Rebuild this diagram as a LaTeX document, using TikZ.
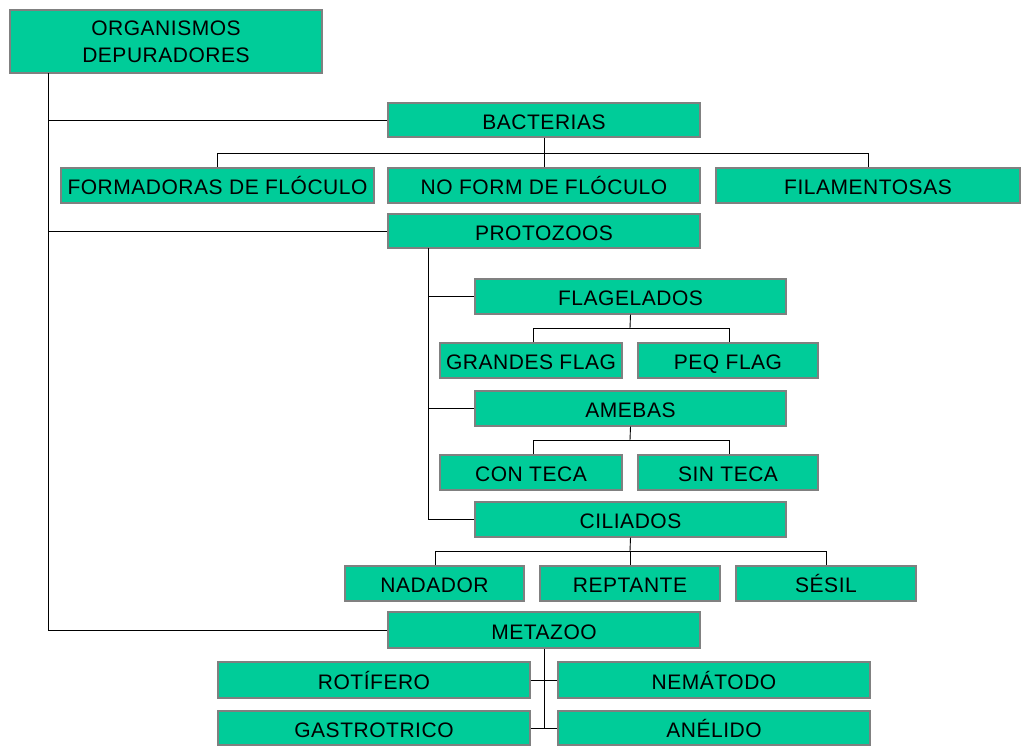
\documentclass[tikz,border=0pt]{standalone}
\usepackage{fontspec}
\setmainfont[LetterSpace=2.5]{Liberation Sans}
\definecolor{boxgreen}{HTML}{00CC99}
\definecolor{boxedge}{HTML}{808080}
\begin{document}
\begin{tikzpicture}[x=1pt,y=-1pt,
  orgbox/.style={draw=boxedge,line width=1.4pt,fill=boxgreen,inner sep=0pt,
    font=\fontsize{21}{27}\selectfont,align=center},
  onebox/.style={orgbox,text height=18pt,text depth=0pt},
  link/.style={draw=black,line width=0.9pt}]
\useasboundingbox (0,0) rectangle (1021,745);
\newcommand{\orgnode}[6]{%
  \node[onebox,minimum width={#4-#2},minimum height={#5-#3}] (#1) at ({(#2+#4)/2},{(#3+#5)/2}) {#6};}
\node[orgbox,minimum width=312,minimum height=63] (root) at (166,41.5) {ORGANISMOS\\DEPURADORES};
\orgnode{bact}{388}{103}{700}{137}{BACTERIAS}
\orgnode{form}{61}{168}{374}{203}{FORMADORAS DE FLÓCULO}
\orgnode{noform}{388}{168}{700}{203}{NO FORM DE FLÓCULO}
\orgnode{fila}{716}{168}{1020}{203}{FILAMENTOSAS}
\orgnode{proto}{388}{214}{700}{248}{PROTOZOOS}
\orgnode{flag}{475}{279}{786}{314}{FLAGELADOS}
\orgnode{gflag}{440}{343}{622}{378}{GRANDES FLAG}
\orgnode{pflag}{638}{343}{818}{378}{PEQ FLAG}
\orgnode{ameb}{475}{391}{786}{426}{AMEBAS}
\orgnode{cteca}{440}{455}{622}{490}{CON TECA}
\orgnode{steca}{638}{455}{818}{490}{SIN TECA}
\orgnode{cili}{475}{502}{786}{537}{CILIADOS}
\orgnode{nada}{345}{566}{524}{601}{NADADOR}
\orgnode{rept}{540}{566}{720}{601}{REPTANTE}
\orgnode{sesil}{736}{566}{916}{601}{SÉSIL}
\orgnode{meta}{388}{612}{700}{648}{METAZOO}
\orgnode{roti}{218}{662}{530}{698}{ROTÍFERO}
\orgnode{nema}{558}{662}{870}{698}{NEMÁTODO}
\orgnode{gast}{218}{711}{530}{745}{GASTROTRICO}
\orgnode{aneli}{558}{711}{870}{745}{ANÉLIDO}
% main trunk
\coordinate (trunk) at (48,73);
\draw[link] (trunk) -- (meta.west -| trunk) -- (meta.west);
\draw[link] (bact.west -| trunk) -- (bact.west);
\draw[link] (proto.west -| trunk) -- (proto.west);
% bacterias
\coordinate (bbus) at (544,153);
\draw[link] (bact.south) -- (bbus);
\draw[link] (form.north |- bbus) -- (fila.north |- bbus);
\draw[link] (form.north |- bbus) -- (form.north);
\draw[link] (bbus) -- (noform.north);
\draw[link] (fila.north |- bbus) -- (fila.north);
% protozoos
\coordinate (ptrunk) at (428,248);
\draw[link] (ptrunk) -- (cili.west -| ptrunk) -- (cili.west);
\draw[link] (flag.west -| ptrunk) -- (flag.west);
\draw[link] (ameb.west -| ptrunk) -- (ameb.west);
% flagelados
\coordinate (fbus) at (630,328);
\draw[link] (flag.south) -- (fbus);
\draw[link] (gflag.north -| 533,0) -- (533,328) -- (729,328) -- (pflag.north -| 729,0);
% amebas
\coordinate (abus) at (630,440);
\draw[link] (ameb.south) -- (abus);
\draw[link] (cteca.north -| 533,0) -- (533,440) -- (729,440) -- (steca.north -| 729,0);
% ciliados
\coordinate (cbus) at (630,551);
\draw[link] (cili.south) -- (cbus);
\draw[link] (nada.north -| 435,0) -- (435,551) -- (826,551) -- (sesil.north -| 826,0);
\draw[link] (cbus) -- (rept.north);
% metazoo
\coordinate (mbus) at (544,728);
\draw[link] (meta.south) -- (mbus);
\draw[link] (roti.east) -- (nema.west);
\draw[link] (gast.east |- mbus) -- (aneli.west |- mbus);
\end{tikzpicture}
\end{document}
